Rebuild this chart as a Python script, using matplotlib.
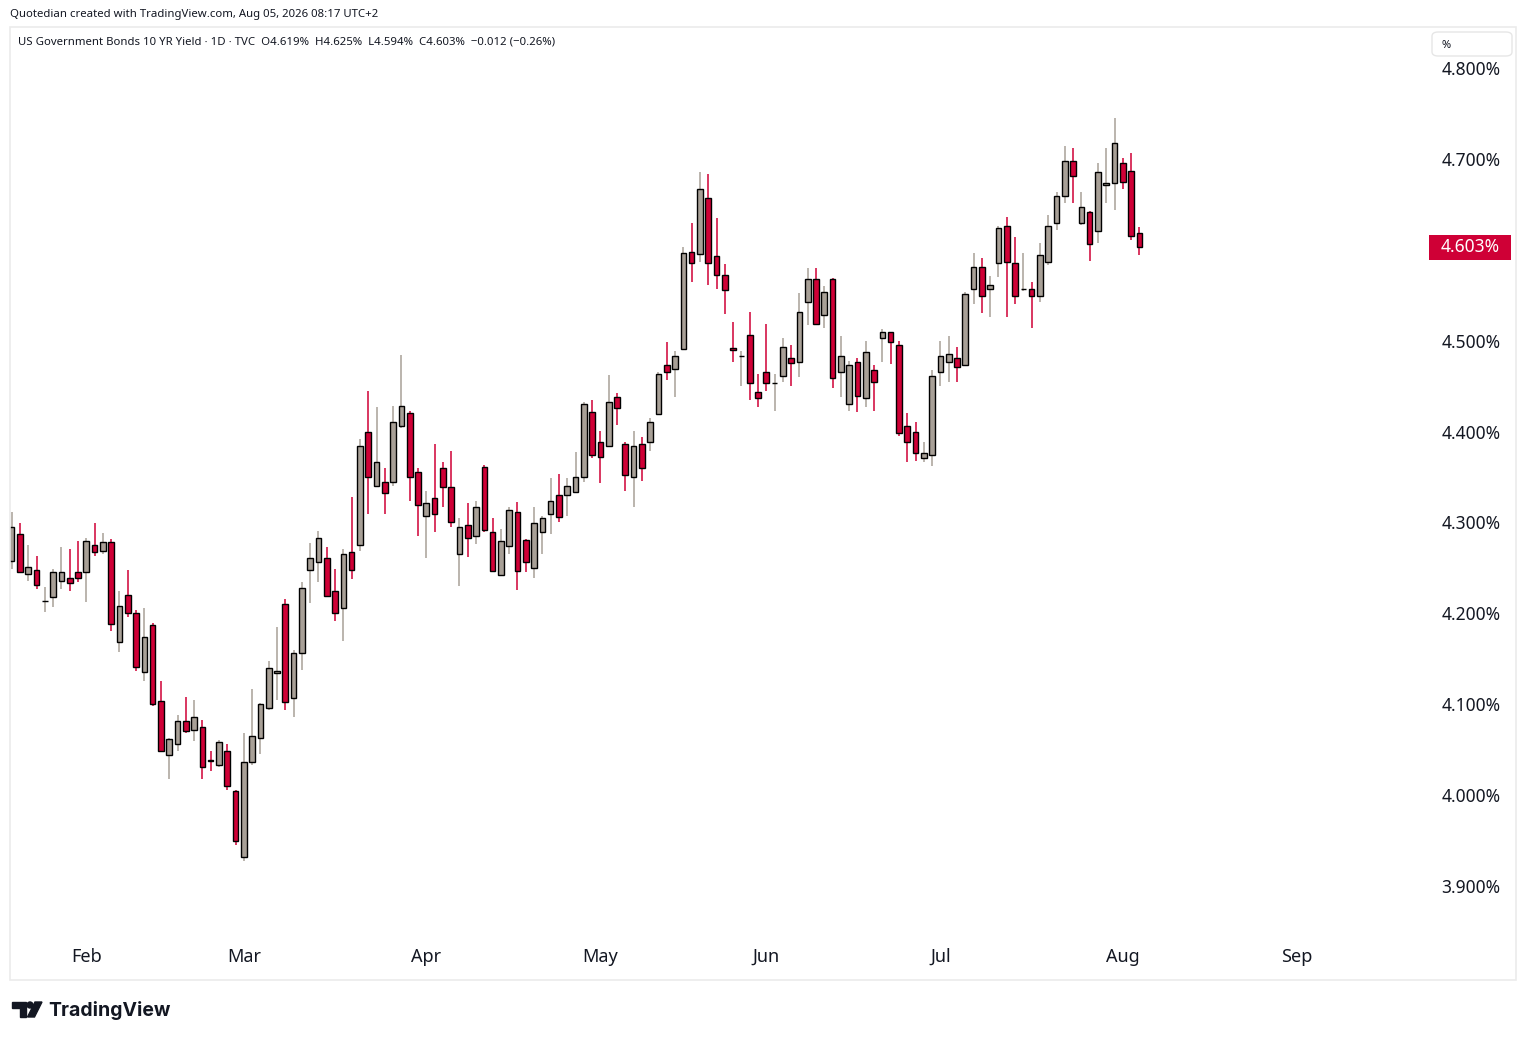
import numpy as np
import matplotlib
matplotlib.use("Agg")
import matplotlib.pyplot as plt
from matplotlib import patches, transforms

# OHLC daily candles, US 10Y yield (%)
opens = [4.258, 4.287, 4.243, 4.248, 4.214, 4.218, 4.236, 4.239, 4.245, 4.246,
         4.275, 4.269, 4.279, 4.168, 4.220, 4.200, 4.135, 4.187, 4.104, 4.044,
         4.056, 4.082, 4.072, 4.075, 4.039, 4.033, 4.048, 4.005, 3.932, 4.036,
         4.063, 4.096, 4.134, 4.210, 4.107, 4.156, 4.248, 4.257, 4.261, 4.225,
         4.206, 4.268, 4.275, 4.400, 4.340, 4.344, 4.345, 4.406, 4.420, 4.356,
         4.307, 4.327, 4.360, 4.339, 4.265, 4.297, 4.285, 4.361, 4.289, 4.242,
         4.274, 4.312, 4.281, 4.250, 4.290, 4.309, 4.330, 4.330, 4.334, 4.350,
         4.422, 4.388, 4.384, 4.438, 4.386, 4.350, 4.386, 4.389, 4.419, 4.473,
         4.469, 4.491, 4.598, 4.595, 4.657, 4.593, 4.572, 4.492, 4.483, 4.506,
         4.444, 4.465, 4.453, 4.461, 4.481, 4.477, 4.543, 4.568, 4.528, 4.568,
         4.466, 4.430, 4.477, 4.437, 4.468, 4.503, 4.509, 4.495, 4.406, 4.400,
         4.371, 4.374, 4.465, 4.477, 4.481, 4.473, 4.557, 4.581, 4.557, 4.585,
         4.626, 4.585, 4.557, 4.557, 4.549, 4.587, 4.630, 4.659, 4.698, 4.630,
         4.642, 4.621, 4.671, 4.673, 4.696, 4.687, 4.619]
highs = [4.312, 4.299, 4.275, 4.263, 4.229, 4.249, 4.273, 4.271, 4.280, 4.283,
         4.299, 4.288, 4.282, 4.225, 4.248, 4.204, 4.206, 4.189, 4.126, 4.063,
         4.088, 4.108, 4.105, 4.083, 4.049, 4.061, 4.056, 4.006, 4.068, 4.117,
         4.101, 4.148, 4.185, 4.216, 4.160, 4.234, 4.277, 4.291, 4.273, 4.249,
         4.271, 4.328, 4.392, 4.445, 4.427, 4.360, 4.428, 4.484, 4.423, 4.360,
         4.335, 4.386, 4.367, 4.379, 4.305, 4.321, 4.324, 4.363, 4.305, 4.293,
         4.317, 4.323, 4.282, 4.317, 4.307, 4.349, 4.353, 4.349, 4.378, 4.433,
         4.435, 4.401, 4.462, 4.442, 4.388, 4.401, 4.394, 4.415, 4.466, 4.499,
         4.489, 4.603, 4.630, 4.686, 4.683, 4.635, 4.584, 4.520, 4.489, 4.532,
         4.463, 4.518, 4.463, 4.503, 4.495, 4.552, 4.580, 4.580, 4.560, 4.569,
         4.505, 4.478, 4.481, 4.500, 4.473, 4.513, 4.510, 4.500, 4.420, 4.410,
         4.389, 4.468, 4.500, 4.505, 4.493, 4.553, 4.597, 4.591, 4.571, 4.626,
         4.636, 4.614, 4.597, 4.565, 4.608, 4.638, 4.664, 4.714, 4.712, 4.664,
         4.643, 4.696, 4.712, 4.745, 4.701, 4.707, 4.625]
lows = [4.249, 4.244, 4.236, 4.227, 4.202, 4.207, 4.227, 4.225, 4.234, 4.213,
        4.263, 4.265, 4.181, 4.157, 4.196, 4.137, 4.126, 4.098, 4.047, 4.018,
        4.049, 4.068, 4.059, 4.018, 4.026, 4.031, 4.006, 3.945, 3.927, 4.033,
        4.045, 4.094, 4.105, 4.094, 4.086, 4.138, 4.211, 4.235, 4.218, 4.192,
        4.170, 4.238, 4.269, 4.309, 4.339, 4.309, 4.340, 4.404, 4.324, 4.285,
        4.261, 4.290, 4.317, 4.295, 4.230, 4.262, 4.276, 4.290, 4.246, 4.241,
        4.265, 4.226, 4.245, 4.239, 4.265, 4.287, 4.301, 4.307, 4.333, 4.345,
        4.371, 4.343, 4.383, 4.407, 4.335, 4.317, 4.346, 4.379, 4.418, 4.457,
        4.438, 4.490, 4.565, 4.587, 4.561, 4.557, 4.529, 4.476, 4.450, 4.435,
        4.427, 4.445, 4.423, 4.454, 4.450, 4.460, 4.517, 4.517, 4.514, 4.448,
        4.438, 4.423, 4.421, 4.427, 4.423, 4.476, 4.474, 4.395, 4.366, 4.368,
        4.366, 4.362, 4.450, 4.454, 4.454, 4.472, 4.540, 4.530, 4.526, 4.570,
        4.526, 4.540, 4.555, 4.514, 4.542, 4.583, 4.622, 4.651, 4.652, 4.627,
        4.588, 4.607, 4.652, 4.644, 4.667, 4.611, 4.594]
closes = [4.295, 4.246, 4.251, 4.231, 4.214, 4.245, 4.246, 4.233, 4.239, 4.280,
          4.267, 4.278, 4.188, 4.208, 4.200, 4.141, 4.174, 4.100, 4.049, 4.062,
          4.082, 4.071, 4.086, 4.031, 4.037, 4.058, 4.010, 3.949, 4.036, 4.065,
          4.100, 4.140, 4.137, 4.102, 4.156, 4.228, 4.261, 4.283, 4.219, 4.200,
          4.265, 4.248, 4.384, 4.350, 4.367, 4.332, 4.411, 4.428, 4.350, 4.319,
          4.321, 4.309, 4.339, 4.301, 4.295, 4.283, 4.317, 4.292, 4.247, 4.280,
          4.314, 4.247, 4.257, 4.299, 4.305, 4.324, 4.306, 4.340, 4.350, 4.430,
          4.374, 4.372, 4.432, 4.426, 4.352, 4.384, 4.360, 4.411, 4.463, 4.466,
          4.483, 4.597, 4.585, 4.667, 4.585, 4.572, 4.556, 4.490, 4.483, 4.453,
          4.437, 4.453, 4.453, 4.493, 4.475, 4.532, 4.568, 4.518, 4.554, 4.459,
          4.483, 4.473, 4.439, 4.487, 4.455, 4.509, 4.499, 4.398, 4.389, 4.376,
          4.376, 4.461, 4.483, 4.485, 4.471, 4.551, 4.581, 4.549, 4.561, 4.624,
          4.586, 4.549, 4.557, 4.549, 4.594, 4.626, 4.659, 4.698, 4.681, 4.647,
          4.606, 4.686, 4.673, 4.718, 4.675, 4.615, 4.603]

# first trading day of each month (bar index)
month_pos = [9, 28, 50, 71, 91, 112, 134, 155]
month_labels = ["Feb", "Mar", "Apr", "May", "Jun", "Jul", "Aug", "Sep"]
# 4.600 is hidden under the last-price tag
yticks = [3.9, 4.0, 4.1, 4.2, 4.3, 4.4, 4.5, 4.7, 4.8]

UP = "#a8a097"
DOWN = "#cf0036"
TXT = "#131722"

W, H = 1526, 1040
fig = plt.figure(figsize=(W / 100, H / 100), dpi=100)
fig.patch.set_facecolor("white")


def fx(px):
    return px / W


def fy(py):
    return 1 - py / H


ax = fig.add_axes([fx(10), fy(935), fx(1428) - fx(10), fy(28) - fy(935)])
ax.set_facecolor("white")

o = np.array(opens)
h = np.array(highs)
l = np.array(lows)
c = np.array(closes)
x = np.arange(len(o))
up = c >= o
cols = np.where(up, UP, DOWN)

ax.vlines(x, l, h, colors=cols, linewidth=1.1, zorder=2)
ax.bar(x, np.abs(c - o), bottom=np.minimum(o, c), width=0.68,
       color=cols, edgecolor="black", linewidth=1.0, zorder=3)

ax.set_xlim(-0.2, 170.8)
ax.set_ylim(3.8461, 4.8440)
for s in ax.spines.values():
    s.set_visible(False)

ax.yaxis.tick_right()
ax.set_yticks(yticks)
ax.set_yticklabels(["{:.3f}%".format(v) for v in yticks])
ax.tick_params(axis="y", length=0, pad=9.5, labelsize=12.5, labelcolor=TXT)
for t in ax.get_yticklabels():
    t.set_fontfamily("Noto Sans")

ax.set_xticks([])
trans = transforms.blended_transform_factory(ax.transData, fig.transFigure)
for p, lab in zip(month_pos, month_labels):
    ax.text(p, fy(957), lab, transform=trans, ha="center", va="center",
            fontsize=13, fontweight="semibold", color=TXT, family="Noto Sans")

# last price tag
last = closes[-1]
tr2 = transforms.blended_transform_factory(ax.transAxes, ax.transData)
x0 = (1429 - 10) / 1418
x1 = (1511 - 10) / 1418
hh = 25 / 908.9
ax.add_patch(patches.Rectangle((x0, last - hh / 2), x1 - x0, hh, transform=tr2,
                               facecolor=DOWN, edgecolor="none", clip_on=False, zorder=5))
ax.text((x0 + x1) / 2, last, "{:.3f}%".format(last), transform=tr2, ha="center",
        va="center", color="white", fontsize=12.5, fontweight="bold",
        family="Noto Sans", clip_on=False, zorder=6)

# outer frame
fig.patches.append(patches.Rectangle((fx(10), fy(980)), fx(1516) - fx(10), fy(27) - fy(980),
                                     transform=fig.transFigure, fill=False,
                                     edgecolor="#ebebeb", linewidth=1.2))
# percent button
fig.patches.append(patches.FancyBboxPatch((fx(1432), fy(56)), fx(1512) - fx(1432), fy(32) - fy(56),
                                          boxstyle="round,pad=0,rounding_size=0.004",
                                          transform=fig.transFigure, facecolor="white",
                                          edgecolor="#e6e6e6", linewidth=1.0))
fig.text(fx(1441), fy(45), "%", fontsize=8, color=TXT, va="center", family="Noto Sans")

fig.text(fx(10), fy(15), "Quotedian created with TradingView.com, Aug 05, 2026 08:17 UTC+2",
         fontsize=8.2, color=TXT, va="center", family="Noto Sans")
fig.text(fx(18), fy(42),
         "US Government Bonds 10 YR Yield \u00b7 1D \u00b7 TVC  O4.619%  H4.625%  L4.594%  C4.603%  \u22120.012 (\u22120.26%)",
         fontsize=8.2, color=TXT, va="center", family="Noto Sans")

# TradingView logo
logo_col = "#131722"
fig.patches.append(patches.Polygon([(fx(12), fy(1002)), (fx(26), fy(1002)), (fx(26), fy(1017)),
                                    (fx(19.5), fy(1017)), (fx(19.5), fy(1008)), (fx(12), fy(1008))],
                                   closed=True, transform=fig.transFigure, color=logo_col))
fig.patches.append(patches.Ellipse((fx(30), fy(1005)), fx(6), 6 / H,
                                   transform=fig.transFigure, color=logo_col))
fig.patches.append(patches.Polygon([(fx(35), fy(1002)), (fx(42), fy(1002)), (fx(34.5), fy(1017)),
                                    (fx(27.5), fy(1017))],
                                   closed=True, transform=fig.transFigure, color=logo_col))
fig.text(fx(48), fy(1010), "TradingView", fontsize=14, fontweight="bold",
         color=logo_col, va="center", family="Inter")

fig.savefig("out.png", dpi=100, facecolor="white")
